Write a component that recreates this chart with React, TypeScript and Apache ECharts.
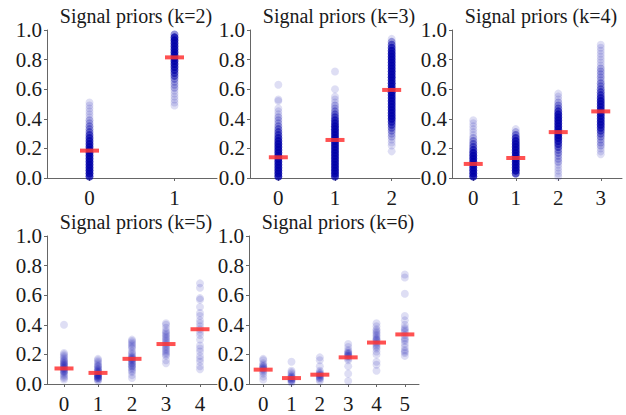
import React, { useEffect, useRef } from "react";
import * as echarts from "echarts";

type Entry = number | [number, number];

const titles = [
  "Signal priors (k=2)",
  "Signal priors (k=3)",
  "Signal priors (k=4)",
  "Signal priors (k=5)",
  "Signal priors (k=6)",
];

const yTickValues = [0, 0.2, 0.4, 0.6, 0.8, 1.0];

// [value, count] = value observed `count` times (dense strips)
const k2Strips: Entry[][] = [
  [[0.01, 10], [0.03, 12], [0.05, 12], [0.07, 12], [0.09, 12], [0.11, 12], [0.13, 12], [0.15, 12], [0.17, 12], [0.19, 12], [0.21, 11], [0.23, 10], [0.25, 9], [0.27, 8], [0.29, 6], [0.31, 4], [0.33, 3], [0.35, 3], [0.37, 2], [0.39, 2], [0.41, 1], [0.43, 1], [0.45, 1], [0.47, 1], [0.49, 1], [0.51, 1]],
  [[0.97, 4], [0.95, 10], [0.93, 12], [0.91, 12], [0.89, 12], [0.87, 12], [0.85, 12], [0.83, 12], [0.81, 12], [0.79, 11], [0.77, 10], [0.75, 9], [0.73, 8], [0.71, 6], [0.69, 5], [0.67, 3], [0.65, 2], [0.63, 2], [0.61, 2], [0.59, 1], [0.57, 1], [0.55, 1], [0.53, 1], [0.51, 1], [0.49, 1]],
];
const k2Means = [0.185, 0.815];

const k3Strips: Entry[][] = [
  [[0.01, 12], [0.03, 12], [0.05, 12], [0.07, 12], [0.09, 12], [0.11, 12], [0.13, 12], [0.15, 12], [0.17, 12], [0.19, 12], [0.21, 12], [0.23, 12], [0.25, 10], [0.27, 8], [0.29, 6], [0.31, 5], [0.33, 4], [0.35, 3], [0.37, 2], [0.39, 2], [0.41, 2], [0.43, 1], [0.45, 1], [0.47, 1], 0.52, 0.53, 0.63],
  [[0.01, 10], [0.03, 12], [0.05, 12], [0.07, 12], [0.09, 12], [0.11, 12], [0.13, 12], [0.15, 12], [0.17, 12], [0.19, 12], [0.21, 12], [0.23, 12], [0.25, 12], [0.27, 12], [0.29, 12], [0.31, 12], [0.33, 12], [0.35, 12], [0.37, 10], [0.39, 8], [0.41, 6], [0.43, 4], [0.45, 3], [0.47, 2], [0.49, 2], [0.51, 1], [0.53, 1], [0.55, 1], 0.6, 0.72],
  [0.18, 0.22, 0.24, 0.26, [0.28, 2], [0.3, 2], [0.32, 3], [0.34, 4], [0.36, 6], [0.38, 8], [0.4, 12], [0.42, 12], [0.44, 12], [0.46, 12], [0.48, 12], [0.5, 12], [0.52, 12], [0.54, 12], [0.56, 12], [0.58, 12], [0.6, 12], [0.62, 12], [0.64, 12], [0.66, 12], [0.68, 12], [0.7, 12], [0.72, 12], [0.74, 12], [0.76, 12], [0.78, 12], [0.8, 12], [0.82, 12], [0.84, 12], [0.86, 10], [0.88, 8], [0.9, 5], [0.92, 3], [0.94, 1]],
];
const k3Means = [0.14, 0.257, 0.595];

const k4Strips: Entry[][] = [
  [[0.01, 12], [0.03, 12], [0.05, 12], [0.07, 12], [0.09, 12], [0.11, 12], [0.13, 12], [0.15, 12], [0.17, 10], [0.19, 7], [0.21, 5], [0.23, 4], [0.25, 3], [0.27, 2], 0.29, 0.31, 0.33, 0.35, 0.37, 0.39],
  [[0.03, 8], [0.05, 12], [0.07, 12], [0.09, 12], [0.11, 12], [0.13, 12], [0.15, 12], [0.17, 12], [0.19, 12], [0.21, 12], [0.23, 12], [0.25, 10], [0.27, 7], [0.29, 4], [0.31, 2], 0.33],
  [0.01, 0.03, 0.05, 0.07, 0.09, [0.11, 2], [0.13, 2], [0.15, 2], [0.17, 3], [0.19, 3], [0.21, 5], [0.23, 7], [0.25, 9], [0.27, 12], [0.29, 12], [0.31, 12], [0.33, 12], [0.35, 12], [0.37, 12], [0.39, 12], [0.41, 12], [0.43, 10], [0.45, 7], [0.47, 4], [0.49, 3], [0.51, 2], 0.53, 0.55, 0.57],
  [0.16, 0.18, 0.2, [0.22, 2], [0.24, 2], [0.26, 2], [0.28, 3], [0.3, 4], [0.32, 6], [0.34, 8], [0.36, 10], [0.38, 10], [0.4, 10], [0.42, 10], [0.44, 10], [0.46, 10], [0.48, 10], [0.5, 10], [0.52, 10], [0.54, 8], [0.56, 6], [0.58, 5], [0.6, 4], [0.62, 3], [0.64, 3], [0.66, 2], [0.68, 2], [0.7, 2], [0.72, 2], [0.74, 2], 0.76, 0.78, 0.8, 0.82, 0.84, 0.86, 0.88, 0.9],
];
const k4Means = [0.095, 0.135, 0.31, 0.45];

const k5Strips: Entry[][] = [
  [0.4, 0.21, 0.2, 0.19, 0.18, 0.17, 0.16, 0.155, 0.15, 0.14, 0.14, 0.13, 0.13, 0.12, 0.12, 0.11, 0.11, 0.1, 0.1, 0.09, 0.09, 0.08, 0.08, 0.07, 0.06, 0.05, 0.04, 0.03],
  [0.17, 0.16, 0.15, 0.14, 0.13, 0.12, 0.12, 0.11, 0.1, 0.1, 0.09, 0.09, 0.08, 0.08, 0.07, 0.07, 0.06, 0.06, 0.06, 0.05, 0.05, 0.05, 0.04, 0.04, 0.04, 0.03, 0.03, 0.02],
  [0.3, 0.29, 0.28, 0.27, 0.26, 0.25, 0.24, 0.22, 0.21, 0.2, 0.19, 0.18, 0.18, 0.17, 0.17, 0.16, 0.16, 0.15, 0.14, 0.14, 0.13, 0.12, 0.12, 0.11, 0.1, 0.09, 0.08, 0.06, 0.04],
  [0.41, 0.4, 0.38, 0.36, 0.35, 0.34, 0.33, 0.32, 0.31, 0.3, 0.29, 0.28, 0.27, 0.26, 0.25, 0.24, 0.23, 0.22, 0.21, 0.2, 0.19, 0.16, 0.14],
  [0.68, 0.65, 0.58, 0.57, 0.52, 0.48, 0.46, 0.43, 0.41, 0.39, 0.37, 0.35, 0.33, 0.3, 0.26, 0.24, 0.22, 0.19, 0.17, 0.15, 0.12, 0.1],
];
const k5Means = [0.105, 0.075, 0.17, 0.27, 0.37];

const k6Strips: Entry[][] = [
  [0.17, 0.16, 0.14, 0.13, 0.12, 0.12, 0.11, 0.11, 0.1, 0.1, 0.09, 0.08, 0.07, 0.05, 0.03],
  [0.15, 0.09, 0.08, 0.07, 0.06, 0.05, 0.05, 0.04, 0.04, 0.03, 0.03, 0.03, 0.02, 0.02, 0.01],
  [0.18, 0.16, 0.12, 0.09, 0.08, 0.07, 0.07, 0.06, 0.06, 0.05, 0.05, 0.04, 0.04, 0.03, 0.02],
  [0.27, 0.25, 0.23, 0.22, 0.21, 0.21, 0.2, 0.2, 0.19, 0.19, 0.18, 0.17, 0.16, 0.12, 0.07, 0.02],
  [0.41, 0.39, 0.37, 0.36, 0.35, 0.34, 0.33, 0.32, 0.31, 0.3, 0.3, 0.29, 0.28, 0.27, 0.26, 0.25, 0.24, 0.22, 0.2, 0.15, 0.13, 0.09],
  [0.74, 0.72, 0.61, 0.46, 0.43, 0.4, 0.38, 0.37, 0.36, 0.35, 0.33, 0.31, 0.3, 0.29, 0.27, 0.25, 0.23, 0.22, 0.21, 0.19],
];
const k6Means = [0.097, 0.04, 0.063, 0.18, 0.28, 0.335];

const panels = [
  { strips: k2Strips, means: k2Means },
  { strips: k3Strips, means: k3Means },
  { strips: k4Strips, means: k4Means },
  { strips: k5Strips, means: k5Means },
  { strips: k6Strips, means: k6Means },
];

const FONT = "'Liberation Serif', 'DejaVu Serif', serif";
const POINT_ALPHA = 0.13;
const GRID_POS = [
  { left: 47, top: 30 },
  { left: 250, top: 30 },
  { left: 452, top: 30 },
  { left: 47, top: 236 },
  { left: 249, top: 236 },
];
const GW = 170;
const GH = 148;

function buildOption() {
  const grid: any[] = [];
  const xAxis: any[] = [];
  const yAxis: any[] = [];
  const series: any[] = [];
  const title: any[] = [];
  panels.forEach((p, i) => {
    const g = GRID_POS[i];
    grid.push({ left: g.left, top: g.top, width: GW, height: GH, containLabel: false });
    title.push({
      text: titles[i],
      left: g.left + GW / 2 - 1,
      top: g.top - 29,
      textAlign: "center",
      textStyle: { fontFamily: FONT, fontSize: 20, fontWeight: "normal", color: "#1a1a1a" },
    });
    const cats = p.strips.map((_, c) => String(c));
    xAxis.push({
      type: "category",
      gridIndex: i,
      data: cats,
      boundaryGap: true,
      axisLine: { lineStyle: { color: "#666", width: 1 } },
      axisTick: { show: true, alignWithLabel: true, length: 3, lineStyle: { color: "#666" } },
      axisLabel: { fontFamily: FONT, fontSize: 21, color: "#1a1a1a", margin: 9 },
      splitLine: { show: false },
    });
    yAxis.push({
      type: "value",
      gridIndex: i,
      min: 0,
      max: 1,
      interval: 0.2,
      axisLine: { show: true, lineStyle: { color: "#666", width: 1 } },
      axisTick: { show: true, length: 3, lineStyle: { color: "#666" } },
      axisLabel: {
        fontFamily: FONT,
        fontSize: 21,
        color: "#1a1a1a",
        margin: 5,
        formatter: (v: number) => (yTickValues.some((t) => Math.abs(t - v) < 1e-9) ? v.toFixed(1) : ""),
      },
      splitLine: { show: false },
    });
    const pts: any[] = [];
    p.strips.forEach((strip, c) => {
      strip.forEach((e) => {
        const v = Array.isArray(e) ? e[0] : e;
        const n = Array.isArray(e) ? e[1] : 1;
        pts.push({ value: [c, v], itemStyle: { opacity: 1 - Math.pow(1 - POINT_ALPHA, n) } });
      });
    });
    series.push({
      type: "scatter",
      xAxisIndex: i,
      yAxisIndex: i,
      symbol: "circle",
      symbolSize: 8,
      data: pts,
      itemStyle: { color: "#0000a8" },
      silent: true,
      z: 2,
    });
    series.push({
      type: "scatter",
      xAxisIndex: i,
      yAxisIndex: i,
      symbol: "rect",
      symbolSize: [19, 4],
      data: p.means.map((m, c) => [c, m]),
      itemStyle: { color: "#ff3333", opacity: 0.85 },
      silent: true,
      z: 3,
    });
  });
  return {
    animation: false,
    backgroundColor: "#ffffff",
    title,
    grid,
    xAxis,
    yAxis,
    series,
  };
}

export default function App() {
  const ref = useRef<HTMLDivElement>(null);
  useEffect(() => {
    if (!ref.current) return;
    const chart = echarts.init(ref.current, undefined, { renderer: "svg" });
    chart.setOption(buildOption() as any);
    return () => chart.dispose();
  }, []);
  return (
    <div
      ref={ref}
      style={{ position: "fixed", left: 0, top: 0, width: 626, height: 415, background: "#fff" }}
    />
  );
}
